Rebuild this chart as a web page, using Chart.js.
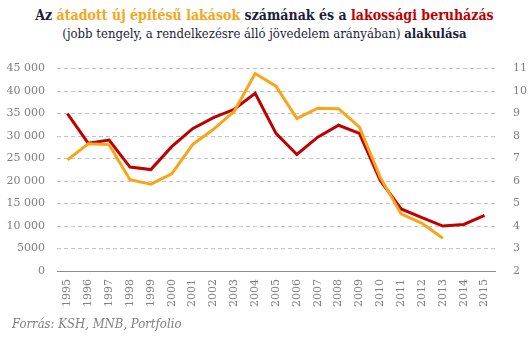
<!DOCTYPE html>
<html>
<head>
    <title>Lakásépítés és lakossági beruházás</title>
    <style>
        body { margin: 0; background: #fff; width: 529px; height: 340px; position: relative; overflow: hidden; }
        .title { position: absolute; top: 6px; left: 0; width: 529px; text-align: center; font-family: "DejaVu Serif Condensed", "DejaVu Serif", serif; font-size: 13px; line-height: 18px; color: #1d1d35; }
        .title b { font-weight: bold; }
        .title .first { font-size: 14px; }
        .orange { color: #f9a51a; }
        .red { color: #c00000; }
        .chart-box { position: absolute; top: 44px; left: 0; width: 529px; height: 280px; }
        .source { position: absolute; top: 316px; left: 12px; font-family: "DejaVu Serif Condensed", "DejaVu Serif", serif; font-style: italic; font-size: 13px; color: #808080; }
    </style>
</head>
<body>
    <div class="title">
        <b class="first">Az <span class="orange">átadott új építésű lakások</span> számának és a <span class="red">lakossági beruházás</span></b><br>
        (jobb tengely, a rendelkezésre álló jövedelem arányában) <b>alakulása</b>
    </div>
    <div class="chart-box"><canvas id="chart"></canvas></div>
    <div class="source">Forrás: KSH, MNB, Portfolio</div>

    <script src="https://cdn.jsdelivr.net/npm/chart.js"></script>
    <script>
        // years on the x axis
        const years = ['1995', '1996', '1997', '1998', '1999', '2000', '2001', '2002', '2003', '2004',
                       '2005', '2006', '2007', '2008', '2009', '2010', '2011', '2012', '2013', '2014', '2015'];
        // completed new dwellings (left axis), no data for 2014-2015
        const dwellings = [24700, 28300, 28100, 20300, 19300, 21600, 28100, 31500, 35500, 43900,
                           41100, 33900, 36200, 36100, 32000, 20800, 12700, 10600, 7300, null, null];
        // household investment, % of disposable income (right axis)
        const investment = [9.0, 7.68, 7.82, 6.62, 6.51, 7.53, 8.33, 8.82, 9.19, 9.9,
                            8.12, 7.18, 7.95, 8.48, 8.12, 6.02, 4.76, 4.37, 4.0, 4.07, 4.47];

        const tickColor = '#808080';
        const tickFont = { family: 'DejaVu Serif', size: 11 };

        new Chart(document.getElementById('chart'), {
            type: 'line',
            data: {
                labels: years,
                datasets: [
                    {
                        label: 'Átadott új lakások',
                        data: dwellings,
                        borderColor: '#f9a51a',
                        borderWidth: 3,
                        pointRadius: 0,
                        tension: 0,
                        yAxisID: 'y'
                    },
                    {
                        label: 'Lakossági beruházás',
                        data: investment,
                        borderColor: '#c00000',
                        borderWidth: 3,
                        pointRadius: 0,
                        tension: 0,
                        yAxisID: 'y2'
                    }
                ]
            },
            options: {
                responsive: true,
                maintainAspectRatio: false,
                animation: false,
                layout: { padding: { top: 12, left: 0, right: 0, bottom: 0 } },
                plugins: {
                    legend: { display: false },
                    tooltip: { enabled: false }
                },
                scales: {
                    x: {
                        offset: true,
                        grid: { display: false, drawTicks: false },
                        border: { display: true, color: '#8c8c8c', width: 1 },
                        ticks: { color: tickColor, font: { family: 'DejaVu Serif', size: 11 }, minRotation: 90, maxRotation: 90, padding: 8, autoSkip: false },
                        afterFit: s => { s.height = 53; }
                    },
                    y: {
                        position: 'left',
                        min: 0,
                        max: 45000,
                        ticks: {
                            stepSize: 5000,
                            color: tickColor,
                            font: tickFont,
                            padding: 12,
                            callback: v => v.toLocaleString('hu-HU').replace(/\s/g, ' ')
                        },
                        grid: {
                            drawTicks: false,
                            color: c => c.tick.value === 0 ? 'rgba(0,0,0,0)' : '#c4c4c4'
                        },
                        border: { display: false, dash: [4, 3] },
                        afterFit: s => { s.width = 57; }
                    },
                    y2: {
                        position: 'right',
                        min: 2,
                        max: 11,
                        ticks: { stepSize: 1, color: tickColor, font: tickFont, padding: 18 },
                        grid: { display: false, drawTicks: false },
                        border: { display: false },
                        afterFit: s => { s.width = 34; }
                    }
                }
            }
        });
    </script>
</body>
</html>
